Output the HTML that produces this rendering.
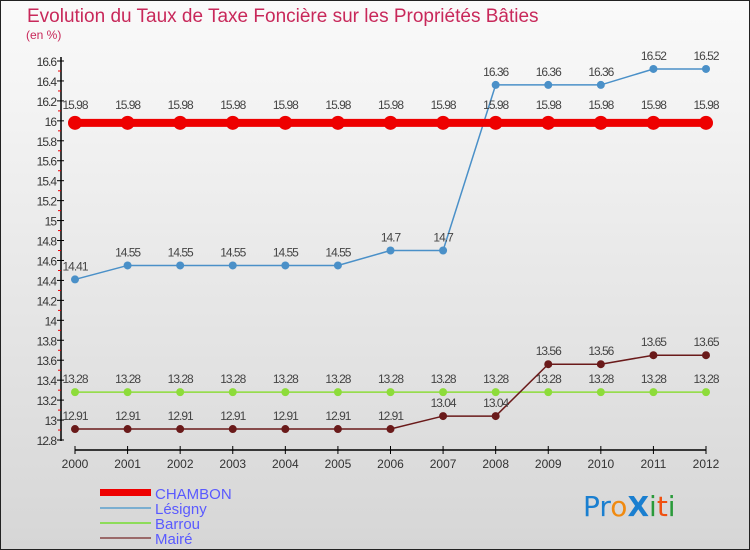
<!DOCTYPE html>
<html><head><meta charset="utf-8"><style>
body{margin:0;width:750px;height:550px;overflow:hidden;font-family:"Liberation Sans",sans-serif}
svg{display:block}
</style></head><body>
<svg id="c" width="750" height="550" xmlns="http://www.w3.org/2000/svg">
<defs><linearGradient id="bg" x1="0" y1="0" x2="0" y2="1"><stop offset="0" stop-color="#fafafa"/><stop offset="1" stop-color="#d6d6d6"/></linearGradient></defs>
<rect x="0.5" y="0.5" width="749" height="549" fill="url(#bg)" stroke="#222"/>
<text x="27" y="22" font-size="19" fill="#c8285a">Evolution du Taux de Taxe Foncière sur les Propriétés Bâties</text>
<text x="26" y="39" font-size="12" fill="#c8285a">(en %)</text>
<g id="axes"></g><g id="series"></g>
<g>
<rect x="100" y="489" width="51" height="7" fill="#e00"/>
<text x="155" y="499" font-size="15" fill="#5a5aff">CHAMBON</text>
<line x1="100" y1="508" x2="151" y2="508" stroke="#7aaed0" stroke-width="2"/>
<text x="155" y="514" font-size="15" fill="#5a5aff">Lésigny</text>
<line x1="100" y1="523" x2="151" y2="523" stroke="#8ddc5a" stroke-width="2"/>
<text x="155" y="529" font-size="15" fill="#5a5aff">Barrou</text>
<line x1="100" y1="538" x2="151" y2="538" stroke="#9a6a6a" stroke-width="2"/>
<text x="155" y="544" font-size="15" fill="#5a5aff">Mairé</text>
</g>
<g font-size="28" font-family="'DejaVu Sans',sans-serif">
<text x="583" y="516"><tspan fill="#1a7fd0">Pr</tspan><tspan fill="#f08a10">o</tspan><tspan fill="#1a7fd0" font-weight="bold">X</tspan><tspan fill="#2a9a3a">i</tspan><tspan fill="#f05010">t</tspan><tspan fill="#2a9a3a">i</tspan></text>
</g>
</svg>
<script>
const years=[2000,2001,2002,2003,2004,2005,2006,2007,2008,2009,2010,2011,2012];
const chambon=[15.98,15.98,15.98,15.98,15.98,15.98,15.98,15.98,15.98,15.98,15.98,15.98,15.98];
const lesigny=[14.41,14.55,14.55,14.55,14.55,14.55,14.7,14.7,16.36,16.36,16.36,16.52,16.52];
const barrou=[13.28,13.28,13.28,13.28,13.28,13.28,13.28,13.28,13.28,13.28,13.28,13.28,13.28];
const maire=[12.91,12.91,12.91,12.91,12.91,12.91,12.91,13.04,13.04,13.56,13.56,13.65,13.65];
const yTicks=[12.8,13,13.2,13.4,13.6,13.8,14,14.2,14.4,14.6,14.8,15,15.2,15.4,15.6,15.8,16,16.2,16.4,16.6];
const NS="http://www.w3.org/2000/svg";
const X=i=>75+i*(706-75)/(years.length-1);
const Y=v=>440-(v-12.8)*(379/3.8);
function mk(tag,attrs,parent,name,text){const e=document.createElementNS(NS,tag);for(const k in attrs)e.setAttribute(k,attrs[k]);


if(text!==undefined)e.textContent=text;parent.appendChild(e);return e;}
const ax=document.getElementById('axes');
mk('line',{x1:61,y1:57,x2:61,y2:441,stroke:'#000','stroke-width':1.5},ax,'y-axis');
yTicks.forEach((t,k)=>{const y=Y(t);mk('line',{x1:57,y1:y,x2:64,y2:y,stroke:'#000'},ax,'y-tick');
if(k>0)mk('line',{x1:58,y1:y+10,x2:61,y2:y+10,stroke:'#e00'},ax,'y-minor-tick');
mk('text',{x:56,y:y+5,'font-size':12,'text-anchor':'end',fill:'#333','letter-spacing':'-1'},ax,'y-tick-label',String(t));});
mk('line',{x1:75,y1:450,x2:706,y2:450,stroke:'#000','stroke-width':1.5},ax,'x-axis');
years.forEach((yr,i)=>{mk('line',{x1:X(i),y1:446,x2:X(i),y2:454,stroke:'#000'},ax,'x-tick');
mk('text',{x:X(i),y:468,'font-size':12,'text-anchor':'middle',fill:'#333'},ax,'x-tick-label',String(yr));});
const sg=document.getElementById('series');
function series(vals,color,w,r,name,labelOff){
const g=mk('g',{},sg,'series-'+name);
mk('polyline',{points:vals.map((v,i)=>X(i)+','+Y(v)).join(' '),fill:'none',stroke:color,'stroke-width':w},g,'line-'+name);
vals.forEach((v,i)=>{mk('circle',{cx:X(i),cy:Y(v),r:r,fill:color},g,'point-'+name);
mk('text',{x:X(i),y:Y(v)-labelOff,'font-size':12,'text-anchor':'middle',fill:'#444','letter-spacing':'-1'},g,'value-label-'+name,String(v));});}
series(barrou,'#8ddc3a',1.5,4,'barrou',9);
series(maire,'#6a1a1a',1.5,4,'maire',9);
series(lesigny,'#4a90c8',1.5,4,'lesigny',9);
series(chambon,'#e00',8,7,'chambon',14);
</script>
</body></html>
